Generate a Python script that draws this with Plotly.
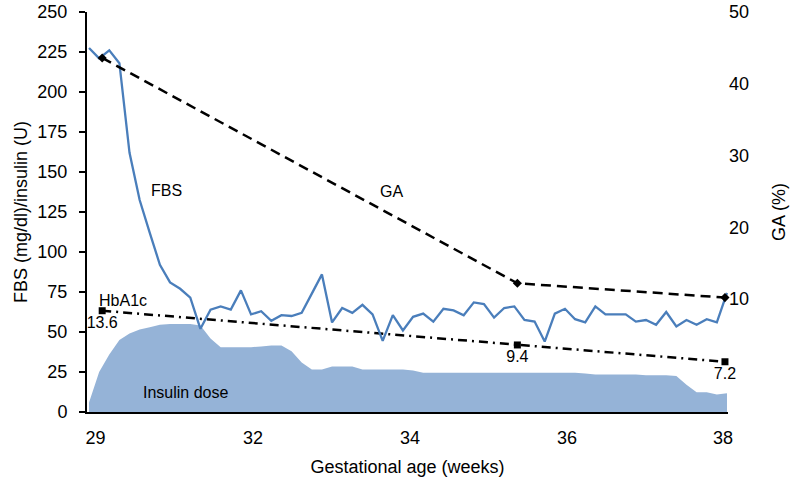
import plotly.graph_objects as go

# ---- data ----
day_index = list(range(64))  # daily categories from 29 to 38 weeks

fbs = [227.5, 221, 226, 218, 162, 132.5, 112, 92, 81, 77, 71.5, 52, 64, 66, 64, 76,
       61, 63, 57, 60.5, 60, 62, 74, 86, 56, 65, 62, 67, 61, 44.5, 60.5, 51,
       59.5, 61.5, 56.5, 64.5, 63.5, 60.5, 68.5, 67.5, 59, 65, 66, 57.5, 56.5, 44, 61.5, 64.5,
       58, 56, 66, 61, 61, 61, 56.5, 57.5, 54.5, 62.5, 53.5, 57.5, 54.5, 58, 56, 74.5]

insulin = [6, 25, 36, 45, 49, 51.5, 53, 54.5, 55, 55, 55, 54, 46, 40.5, 40.5, 40.5,
           40.5, 41, 41.5, 41.5, 38, 31, 26.5, 26.5, 28.5, 28.5, 28.5, 26.5, 26.5, 26.5, 26.5, 26.5,
           26, 24.6, 24.6, 24.6, 24.6, 24.6, 24.6, 24.6, 24.6, 24.6, 24.6, 24.6, 24.6, 24.6, 24.6, 24.6,
           24.6, 24, 23.5, 23.5, 23.5, 23.5, 23.5, 23, 23, 23, 22.5, 17, 12.3, 12.3, 11, 11.7]

lab_days = [1.3, 42.3, 62.8]
ga_pct = [43.6, 12.2, 10.2]
hba1c_values = [13.6, 9.4, 7.2]
hba1c_plot_level = [63.3, 41.9, 31.4]  # drawn height on the left axis

week_labels = ["29", "32", "34", "36", "38"]
week_label_pos = [0.64, 16.2, 31.7, 47.2, 62.6]

left_ticks = [0, 25, 50, 75, 100, 125, 150, 175, 200, 225, 250]
right_ticks = [10, 20, 30, 40, 50]

FONT = "Liberation Sans, Arial, Helvetica, sans-serif"

fig = go.Figure()

fig.add_trace(go.Scatter(
    x=day_index, y=insulin, mode="lines", fill="tozeroy",
    line=dict(width=0, color="rgb(149,179,215)"),
    fillcolor="rgb(149,179,215)", name="Insulin dose", hoverinfo="x+y"))

fig.add_trace(go.Scatter(
    x=lab_days, y=hba1c_plot_level, mode="lines+markers+text",
    text=[str(v) for v in hba1c_values], textposition="bottom center",
    textfont=dict(size=16, color="black", family=FONT), cliponaxis=False,
    line=dict(color="black", width=2.5, dash="9px,5px,2px,5px"),
    marker=dict(symbol="square", size=7, color="black"), name="HbA1c"))

fig.add_trace(go.Scatter(
    x=day_index, y=fbs, mode="lines",
    line=dict(color="rgb(74,126,187)", width=2.3), name="FBS"))

fig.add_trace(go.Scatter(
    x=lab_days, y=ga_pct, mode="lines+markers", yaxis="y2", cliponaxis=False,
    line=dict(color="black", width=2.5, dash="10px,6px"),
    marker=dict(symbol="diamond", size=7, color="black"), name="GA"))

annots = [
    dict(text="FBS", x=7.67, y=138.3),
    dict(text="GA", x=29.9, y=137.7),
    dict(text="HbA1c", x=3.39, y=69.6),
    dict(text="Insulin dose", x=9.48, y=12.1),
]
for a in annots:
    fig.add_annotation(text=a["text"], x=a["x"], y=a["y"], xref="x", yref="y",
                       showarrow=False, font=dict(size=16, color="black", family=FONT))

fig.update_layout(
    width=791, height=480,
    margin=dict(l=87, r=63, t=12, b=68),
    paper_bgcolor="white", plot_bgcolor="white",
    showlegend=False,
    font=dict(family=FONT, size=18, color="black"),
    xaxis=dict(
        range=[-0.2, 63.1], showgrid=False, zeroline=False, automargin=False,
        showline=True, linecolor="black", linewidth=2,
        tickmode="array", tickvals=week_label_pos, ticktext=week_labels,
        ticks="outside", ticklen=8, tickcolor="rgba(0,0,0,0)",
        tickfont=dict(size=18), ticklabeloverflow="allow",
        title=dict(text="Gestational age (weeks)", font=dict(size=18), standoff=14),
    ),
    yaxis=dict(
        range=[0, 250], showgrid=False, zeroline=False, automargin=False,
        showline=True, linecolor="black", linewidth=2,
        tickmode="array", tickvals=left_ticks,
        ticks="outside", ticklen=6, tickwidth=1.5, tickcolor="black",
        ticklabelstandoff=8, ticklabeloverflow="allow",
        tickfont=dict(size=18),
        title=dict(text="FBS (mg/dl)/insulin (U)", font=dict(size=18), standoff=5),
    ),
    yaxis2=dict(
        range=[-5.74, 50], overlaying="y", side="right", automargin=False,
        showgrid=False, zeroline=False, showline=False,
        tickmode="array", tickvals=right_ticks, ticks="",
        tickfont=dict(size=18), ticklabeloverflow="allow",
        title=dict(text="GA (%)", font=dict(size=18), standoff=24),
    ),
)

fig.write_html(
    "out.html",
    config={"displayModeBar": False},
    post_script="document.body.style.margin='0';document.body.style.overflow='hidden';",
)
